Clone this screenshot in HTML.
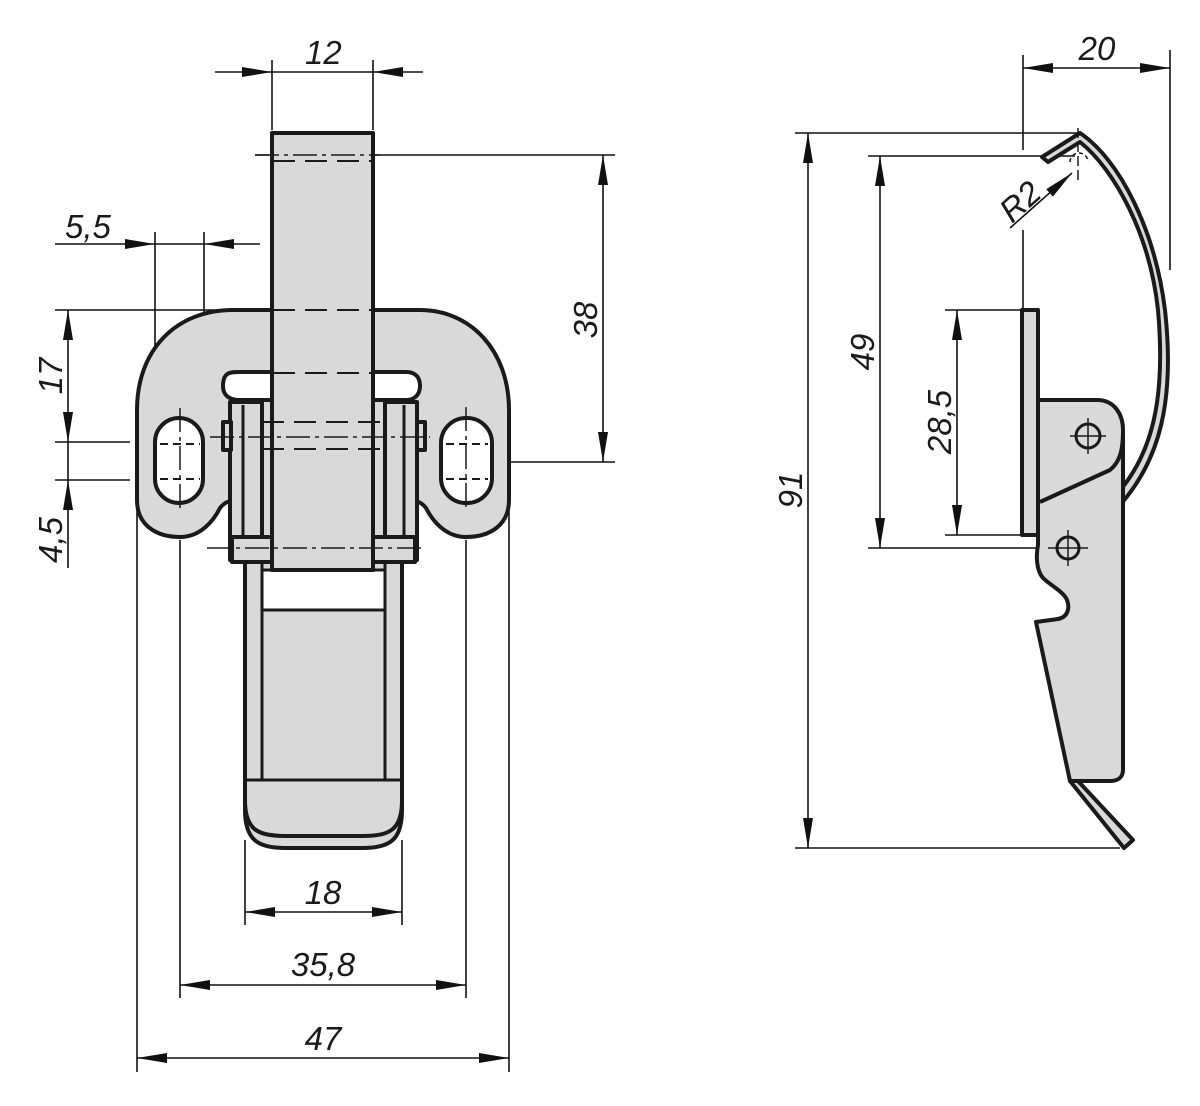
<!DOCTYPE html>
<html><head><meta charset="utf-8"><style>
html,body{margin:0;padding:0;background:#fff}
svg{display:block}
text{font-family:"Liberation Sans",sans-serif;font-style:italic;font-size:33px;fill:#1a1a1a}
</style></head><body>
<svg width="1200" height="1106" viewBox="0 0 1200 1106" xmlns="http://www.w3.org/2000/svg">
<defs>
<marker id="a" viewBox="0 0 30 10" refX="30" refY="5" markerWidth="30" markerHeight="10" markerUnits="userSpaceOnUse" orient="auto-start-reverse"><path d="M0,0 L30,5 L0,10 Z" fill="#111"/></marker>
</defs>
<g stroke="#111" stroke-width="1.6" fill="none">
<line x1="272" y1="60" x2="272" y2="130"/><line x1="373" y1="60" x2="373" y2="130"/>
<line x1="255" y1="155" x2="615" y2="155"/><line x1="495" y1="462" x2="615" y2="462"/>
<line x1="155" y1="232" x2="155" y2="420"/><line x1="204" y1="232" x2="204" y2="320"/>
<line x1="55" y1="310" x2="272" y2="310"/>
<line x1="55" y1="442" x2="130" y2="442"/><line x1="55" y1="480" x2="130" y2="480"/>
<line x1="137" y1="500" x2="137" y2="1072"/><line x1="509" y1="500" x2="509" y2="1072"/>
<line x1="180" y1="540" x2="180" y2="998"/><line x1="466" y1="540" x2="466" y2="998"/>
<line x1="245" y1="840" x2="245" y2="925"/><line x1="402" y1="840" x2="402" y2="925"/>
<line x1="215" y1="72" x2="272" y2="72" marker-end="url(#a)"/>
<line x1="272" y1="72" x2="373" y2="72"/>
<line x1="423" y1="72" x2="373" y2="72" marker-end="url(#a)"/>
<line x1="603" y1="155" x2="603" y2="462" marker-start="url(#a)" marker-end="url(#a)"/>
<line x1="55" y1="244" x2="155" y2="244" marker-end="url(#a)"/>
<line x1="155" y1="244" x2="204" y2="244"/>
<line x1="260" y1="244" x2="204" y2="244" marker-end="url(#a)"/>
<line x1="68" y1="310" x2="68" y2="442" marker-start="url(#a)" marker-end="url(#a)"/>
<line x1="68" y1="442" x2="68" y2="480"/>
<line x1="68" y1="568" x2="68" y2="480" marker-end="url(#a)"/>
<line x1="245" y1="912" x2="402" y2="912" marker-start="url(#a)" marker-end="url(#a)"/>
<line x1="180" y1="985" x2="466" y2="985" marker-start="url(#a)" marker-end="url(#a)"/>
<line x1="137" y1="1058" x2="509" y2="1058" marker-start="url(#a)" marker-end="url(#a)"/>
<line x1="795" y1="133" x2="1080" y2="133"/><line x1="795" y1="848" x2="1120" y2="848"/>
<line x1="868" y1="156" x2="1075" y2="156"/><line x1="868" y1="548" x2="1060" y2="548"/>
<line x1="945" y1="310" x2="1025" y2="310"/><line x1="945" y1="535" x2="1025" y2="535"/>
<line x1="1023" y1="55" x2="1023" y2="150"/><line x1="1023" y1="230" x2="1023" y2="310"/>
<line x1="1170" y1="50" x2="1170" y2="270"/>
<line x1="808" y1="133" x2="808" y2="848" marker-start="url(#a)" marker-end="url(#a)"/>
<line x1="880" y1="156" x2="880" y2="548" marker-start="url(#a)" marker-end="url(#a)"/>
<line x1="957" y1="310" x2="957" y2="535" marker-start="url(#a)" marker-end="url(#a)"/>
<line x1="1023" y1="68" x2="1170" y2="68" marker-start="url(#a)" marker-end="url(#a)"/>
<line x1="1010" y1="228" x2="1072" y2="173" marker-end="url(#a)"/>
</g>

<g stroke="#1a1a1a" stroke-width="4" fill="#d9d9d9" stroke-linejoin="round">
<path d="M233,310 L420,310 C470,310 509,350 509,410 L509,500 C509,525 490,537 466,537 C445,537 432,520 426,508 C420,500 412,500 405,500 L240,500 C234,500 226,500 220,508 C214,520 201,537 180,537 C156,537 137,525 137,500 L137,410 C137,350 176,310 233,310 Z"/>
<path d="M223,386 C223,372 230,372 240,372 L406,372 C416,372 420,378 420,386 C420,396 413,400 406,400 L240,400 C230,400 223,396 223,386 Z" fill="#fff"/>
<rect x="155" y="418" width="48" height="85" rx="24" fill="#fff"/>
<rect x="441" y="418" width="51" height="85" rx="25" fill="#fff"/>
<path d="M245,400 L245,810 C245,840 258,848 285,848 L362,848 C390,848 402,840 402,810 L402,400 Z"/>
<path d="M245,800 C245,830 258,836 285,836 L362,836 C390,836 402,830 402,800" fill="none"/>
<rect x="262" y="610" width="123" height="170" stroke-width="3"/>
<path d="M262,400 L262,780 L245,780 M385,400 L385,780 L402,780" fill="none" stroke-width="3"/>
<rect x="262" y="570" width="123" height="40" fill="#fff" stroke-width="3"/>
<rect x="230" y="402" width="32" height="158"/>
<rect x="385" y="402" width="32" height="158"/>
<line x1="243" y1="405" x2="243" y2="560" stroke-width="3"/>
<line x1="404" y1="405" x2="404" y2="560" stroke-width="3"/>
<rect x="223" y="422" width="8" height="28"/><rect x="417" y="422" width="8" height="28"/>
<rect x="232" y="537" width="183" height="25"/>
<rect x="272" y="133" width="101" height="437"/>
</g>
<g stroke="#1a1a1a" stroke-width="2" stroke-dasharray="22,10" fill="none">
<line x1="273" y1="161" x2="372" y2="161"/><line x1="273" y1="310" x2="372" y2="310"/>
<line x1="273" y1="373" x2="372" y2="373"/><line x1="262" y1="422" x2="385" y2="422"/>
<line x1="262" y1="449" x2="385" y2="449"/>
<line x1="160" y1="444" x2="200" y2="444" stroke-dasharray="8,5"/><line x1="160" y1="479" x2="200" y2="479" stroke-dasharray="8,5"/>
<line x1="446" y1="444" x2="488" y2="444" stroke-dasharray="8,5"/><line x1="446" y1="479" x2="488" y2="479" stroke-dasharray="8,5"/>
</g>
<g stroke="#1a1a1a" stroke-width="1.5" stroke-dasharray="24,5,4,5" fill="none">
<line x1="210" y1="437" x2="430" y2="437"/><line x1="207" y1="548" x2="423" y2="548"/>
<line x1="180" y1="408" x2="180" y2="512"/><line x1="466" y1="407" x2="466" y2="512"/>
<line x1="255" y1="155" x2="380" y2="155"/>
</g>

<g stroke="#1a1a1a" stroke-width="4" fill="#d9d9d9" stroke-linejoin="round">
<path d="M1120,505 C1160,460 1175,400 1165,310 C1155,230 1120,160 1080,133 L1042,157 L1048,162 L1080,142 C1115,170 1150,235 1158,310 C1166,400 1152,455 1116,495 Z"/>
<rect x="1022" y="310" width="16" height="225"/>
<path d="M1038,400 L1097,400 C1115,400 1123,415 1123,430 L1123,770 C1123,778 1117,781 1110,781 L1070,781 L1036,622 L1058,619 C1068,617 1070,608 1067,600 C1064,592 1050,585 1043,578 C1036,570 1036,555 1038,545 Z"/>
<path d="M1040,502 L1110,470 C1120,462 1123,450 1123,430" fill="none"/>
<path d="M1070,781 L1078,781 L1133,840 L1124,848 Z"/>
<circle cx="1088" cy="436" r="12" fill="none" stroke-width="3"/>
<circle cx="1068" cy="548" r="11" fill="none" stroke-width="3"/>
</g>
<g stroke="#1a1a1a" stroke-width="1.5" fill="none">
<line x1="1070" y1="436" x2="1106" y2="436"/><line x1="1088" y1="418" x2="1088" y2="454"/>
<line x1="1048" y1="548" x2="1088" y2="548"/><line x1="1068" y1="530" x2="1068" y2="566"/>
<line x1="1078" y1="128" x2="1078" y2="180" stroke-dasharray="10,4"/>
<path d="M1070,162 a9,9 0 1,1 18,0" stroke-dasharray="4,3"/>
</g>

<text x="305" y="64">12</text>
<text x="65" y="238">5,5</text>
<text transform="translate(597,320) rotate(-90)" text-anchor="middle">38</text>
<text transform="translate(62,376) rotate(-90)" text-anchor="middle">17</text>
<text transform="translate(62,540) rotate(-90)" text-anchor="middle">4,5</text>
<text x="323" y="904" text-anchor="middle">18</text>
<text x="323" y="976" text-anchor="middle">35,8</text>
<text x="323" y="1050" text-anchor="middle">47</text>
<text transform="translate(802,490) rotate(-90)" text-anchor="middle">91</text>
<text transform="translate(874,352) rotate(-90)" text-anchor="middle">49</text>
<text transform="translate(951,422) rotate(-90)" text-anchor="middle">28,5</text>
<text x="1097" y="60" text-anchor="middle">20</text>
<text transform="translate(1012,224) rotate(-42)">R2</text>
</svg>
</body></html>
